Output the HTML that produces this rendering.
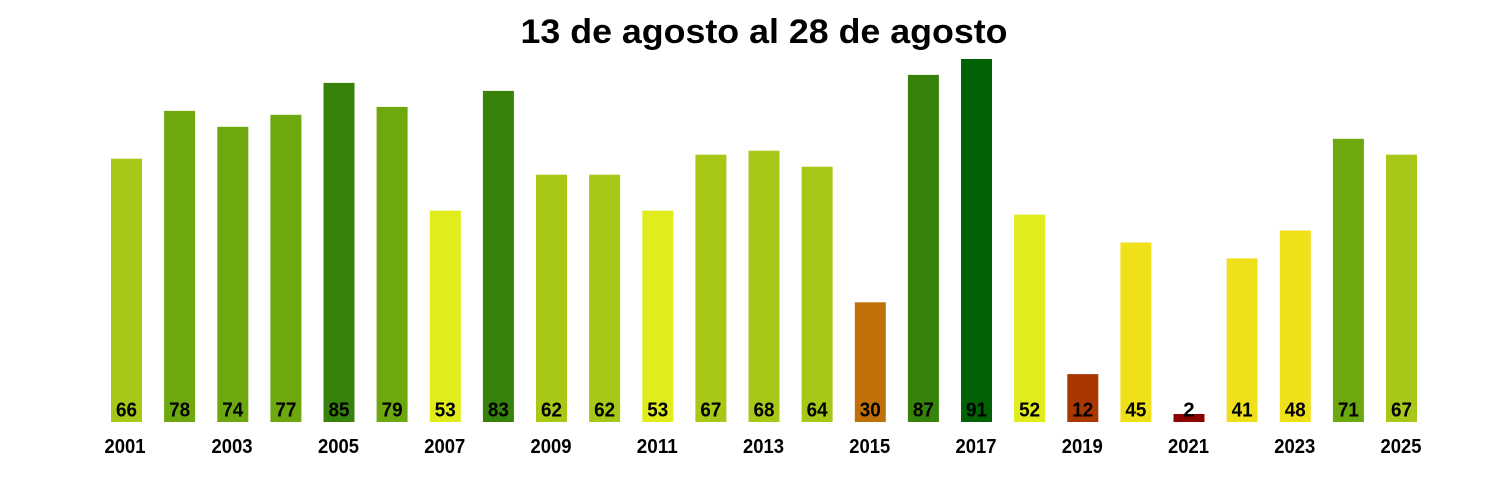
<!DOCTYPE html>
<html><head><meta charset="utf-8"><style>
html,body{margin:0;padding:0;background:#fff;}
svg{display:block;}
text{font-family:"Liberation Sans",Arial,sans-serif;font-weight:bold;fill:#000;}
</style></head><body>
<svg width="1500" height="500" viewBox="0 0 1500 500" xmlns="http://www.w3.org/2000/svg">
<rect width="1500" height="500" fill="#fff"/>
<text x="764" y="43" font-size="34" text-anchor="middle" textLength="487" lengthAdjust="spacingAndGlyphs">13 de agosto al 28 de agosto</text>
<rect x="111" y="158.7" width="31" height="263.3" fill="#a8c818"/>
<rect x="164.1" y="110.9" width="31" height="311.1" fill="#6ca80e"/>
<rect x="217.3" y="126.8" width="31" height="295.2" fill="#6ca80e"/>
<rect x="270.4" y="114.8" width="31" height="307.2" fill="#6ca80e"/>
<rect x="323.5" y="82.9" width="31" height="339.1" fill="#36820a"/>
<rect x="376.6" y="106.9" width="31" height="315.1" fill="#6ca80e"/>
<rect x="429.8" y="210.6" width="31" height="211.4" fill="#e0ec1c"/>
<rect x="482.9" y="90.9" width="31" height="331.1" fill="#36820a"/>
<rect x="536" y="174.7" width="31" height="247.3" fill="#a8c818"/>
<rect x="589.1" y="174.7" width="31" height="247.3" fill="#a8c818"/>
<rect x="642.3" y="210.6" width="31" height="211.4" fill="#e0ec1c"/>
<rect x="695.4" y="154.7" width="31" height="267.3" fill="#a8c818"/>
<rect x="748.5" y="150.7" width="31" height="271.3" fill="#a8c818"/>
<rect x="801.6" y="166.7" width="31" height="255.3" fill="#a8c818"/>
<rect x="854.8" y="302.3" width="31" height="119.7" fill="#c07008"/>
<rect x="907.9" y="74.9" width="31" height="347.1" fill="#36820a"/>
<rect x="961" y="59" width="31" height="363" fill="#006204"/>
<rect x="1014.1" y="214.6" width="31" height="207.4" fill="#e0ec1c"/>
<rect x="1067.3" y="374.1" width="31" height="47.9" fill="#a83800"/>
<rect x="1120.4" y="242.5" width="31" height="179.5" fill="#f0e01a"/>
<rect x="1173.5" y="414" width="31" height="8" fill="#8b0000"/>
<rect x="1226.6" y="258.4" width="31" height="163.6" fill="#f0e01a"/>
<rect x="1279.8" y="230.5" width="31" height="191.5" fill="#f0e01a"/>
<rect x="1332.9" y="138.8" width="31" height="283.2" fill="#6ca80e"/>
<rect x="1386" y="154.7" width="31" height="267.3" fill="#a8c818"/>
<g font-size="20.5" text-anchor="middle">
<text x="126.5" y="416.3" textLength="21" lengthAdjust="spacingAndGlyphs">66</text>
<text x="179.6" y="416.3" textLength="21" lengthAdjust="spacingAndGlyphs">78</text>
<text x="232.8" y="416.3" textLength="21" lengthAdjust="spacingAndGlyphs">74</text>
<text x="285.9" y="416.3" textLength="21" lengthAdjust="spacingAndGlyphs">77</text>
<text x="339" y="416.3" textLength="21" lengthAdjust="spacingAndGlyphs">85</text>
<text x="392.1" y="416.3" textLength="21" lengthAdjust="spacingAndGlyphs">79</text>
<text x="445.3" y="416.3" textLength="21" lengthAdjust="spacingAndGlyphs">53</text>
<text x="498.4" y="416.3" textLength="21" lengthAdjust="spacingAndGlyphs">83</text>
<text x="551.5" y="416.3" textLength="21" lengthAdjust="spacingAndGlyphs">62</text>
<text x="604.6" y="416.3" textLength="21" lengthAdjust="spacingAndGlyphs">62</text>
<text x="657.8" y="416.3" textLength="21" lengthAdjust="spacingAndGlyphs">53</text>
<text x="710.9" y="416.3" textLength="21" lengthAdjust="spacingAndGlyphs">67</text>
<text x="764" y="416.3" textLength="21" lengthAdjust="spacingAndGlyphs">68</text>
<text x="817.1" y="416.3" textLength="21" lengthAdjust="spacingAndGlyphs">64</text>
<text x="870.3" y="416.3" textLength="21" lengthAdjust="spacingAndGlyphs">30</text>
<text x="923.4" y="416.3" textLength="21" lengthAdjust="spacingAndGlyphs">87</text>
<text x="976.5" y="416.3" textLength="21" lengthAdjust="spacingAndGlyphs">91</text>
<text x="1029.6" y="416.3" textLength="21" lengthAdjust="spacingAndGlyphs">52</text>
<text x="1082.8" y="416.3" textLength="21" lengthAdjust="spacingAndGlyphs">12</text>
<text x="1135.9" y="416.3" textLength="21" lengthAdjust="spacingAndGlyphs">45</text>
<text x="1189" y="416.3">2</text>
<text x="1242.1" y="416.3" textLength="21" lengthAdjust="spacingAndGlyphs">41</text>
<text x="1295.3" y="416.3" textLength="21" lengthAdjust="spacingAndGlyphs">48</text>
<text x="1348.4" y="416.3" textLength="21" lengthAdjust="spacingAndGlyphs">71</text>
<text x="1401.5" y="416.3" textLength="21" lengthAdjust="spacingAndGlyphs">67</text>
</g>
<g font-size="20.5" text-anchor="middle">
<text x="125" y="452.8" textLength="41" lengthAdjust="spacingAndGlyphs">2001</text>
<text x="232" y="452.8" textLength="41" lengthAdjust="spacingAndGlyphs">2003</text>
<text x="338.5" y="452.8" textLength="41" lengthAdjust="spacingAndGlyphs">2005</text>
<text x="444.8" y="452.8" textLength="41" lengthAdjust="spacingAndGlyphs">2007</text>
<text x="551" y="452.8" textLength="41" lengthAdjust="spacingAndGlyphs">2009</text>
<text x="657.3" y="452.8" textLength="41" lengthAdjust="spacingAndGlyphs">2011</text>
<text x="763.5" y="452.8" textLength="41" lengthAdjust="spacingAndGlyphs">2013</text>
<text x="869.8" y="452.8" textLength="41" lengthAdjust="spacingAndGlyphs">2015</text>
<text x="976" y="452.8" textLength="41" lengthAdjust="spacingAndGlyphs">2017</text>
<text x="1082.3" y="452.8" textLength="41" lengthAdjust="spacingAndGlyphs">2019</text>
<text x="1188.5" y="452.8" textLength="41" lengthAdjust="spacingAndGlyphs">2021</text>
<text x="1294.8" y="452.8" textLength="41" lengthAdjust="spacingAndGlyphs">2023</text>
<text x="1401" y="452.8" textLength="41" lengthAdjust="spacingAndGlyphs">2025</text>
</g>
</svg>
</body></html>
